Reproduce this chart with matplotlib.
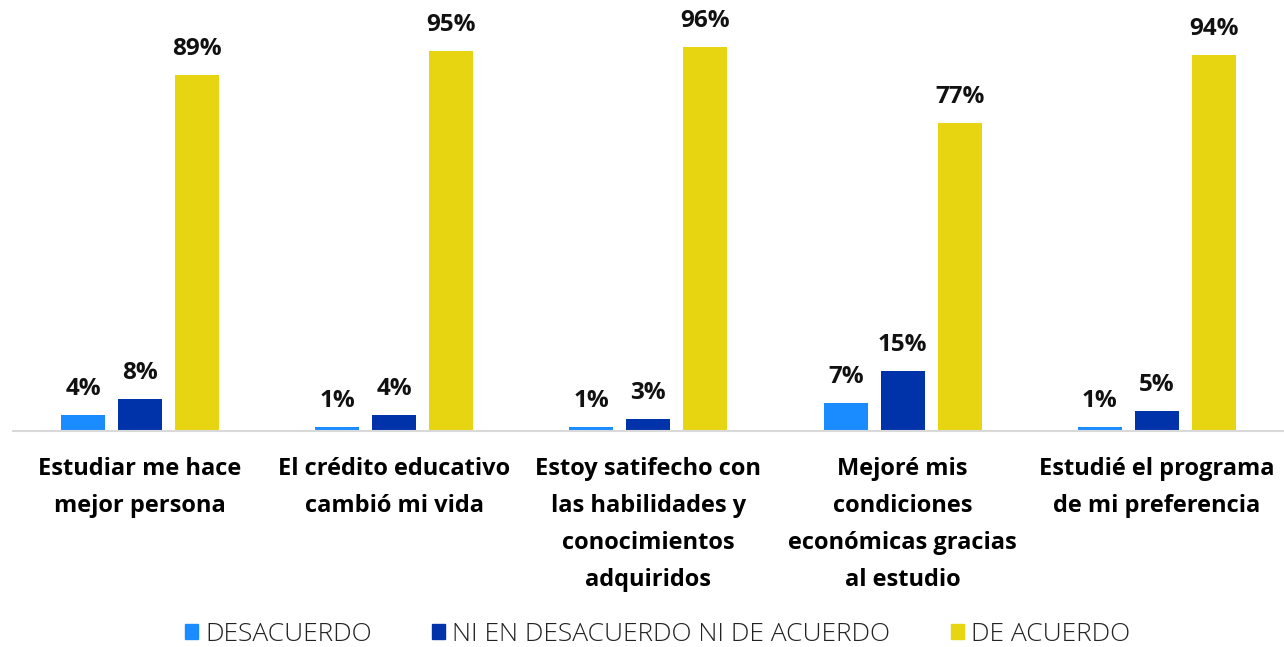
import numpy as np
import matplotlib.pyplot as plt
from matplotlib.patches import Patch

categories = [
    'Estudiar me hace\nmejor persona',
    'El crédito educativo\ncambió mi vida',
    'Estoy satifecho con\nlas habilidades y\nconocimientos\nadquiridos',
    'Mejoré mis\ncondiciones\neconómicas gracias\nal estudio',
    'Estudié el programa\nde mi preferencia',
]
series_names = ['DESACUERDO', 'NI EN DESACUERDO NI DE ACUERDO', 'DE ACUERDO']
desacuerdo = [4, 1, 1, 7, 1]
neutral = [8, 4, 3, 15, 5]
de_acuerdo = [89, 95, 96, 77, 94]

colors = ['#1A8CFF', '#0033AA', '#E8D511']

plt.rcParams['font.family'] = ['Open Sans', 'DejaVu Sans']

fig = plt.figure(figsize=(12.84, 6.47), dpi=100)
ax = fig.add_axes([0.010, 0.3338, 0.990, 0.618])

x = np.arange(len(categories))
width = 0.173
offset = 0.224
for i, (vals, name, c) in enumerate(zip([desacuerdo, neutral, de_acuerdo], series_names, colors)):
    pos = x + (i - 1) * offset
    ax.bar(pos, vals, width=width, color=c, label=name)
    for xp, v in zip(pos, vals):
        ax.text(xp, v + 5, f'{v}%', ha='center', va='baseline',
                fontsize=17.5, fontweight='bold', color='#111111')

ax.set_xlim(-0.5, len(categories) - 0.5)
ax.set_ylim(0, 100)
ax.set_yticks([])
ax.set_xticks(x)
ax.set_xticklabels(categories, fontsize=17, fontweight='bold', linespacing=1.72)
ax.tick_params(axis='x', length=0, pad=19)
for s in ['top', 'right', 'left']:
    ax.spines[s].set_visible(False)
ax.spines['bottom'].set_color('#D9D9D9')
ax.spines['bottom'].set_linewidth(1.5)

handles = [Patch(color=c) for c in colors]
fig.legend(handles, series_names, loc='center', bbox_to_anchor=(0.512, 0.02),
           ncol=3, frameon=False, handlelength=0.5, handleheight=0.5,
           columnspacing=2.3, handletextpad=0.25, labelcolor='#222222',
           prop={'size': 19, 'weight': 'light'})

fig.savefig('out.png', dpi=100)
